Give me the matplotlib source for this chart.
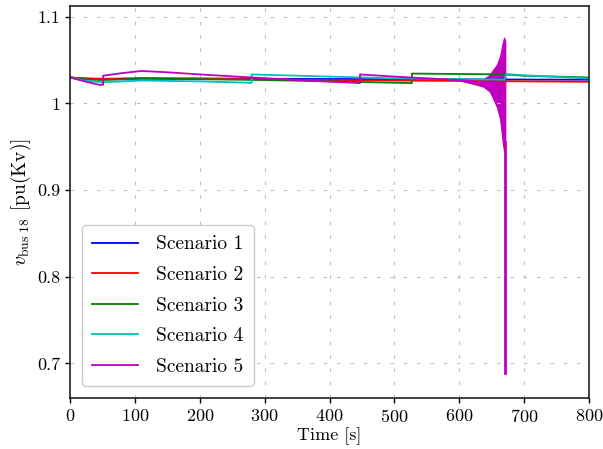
import matplotlib
matplotlib.use("Agg")
import matplotlib.pyplot as plt
from matplotlib.ticker import FuncFormatter

plt.rcParams['font.family'] = 'serif'
plt.rcParams['font.serif'] = ['cmr10']
plt.rcParams['mathtext.fontset'] = 'cm'
plt.rcParams['axes.formatter.use_mathtext'] = True

# ---- data ----
s1_t = [0, 25, 50, 110, 200, 300, 400, 500, 600, 700, 800]
s1_v = [1.030, 1.0285, 1.028, 1.029, 1.0288, 1.0285, 1.0282, 1.028, 1.0278, 1.0276, 1.0274]

s2_t = [0, 25, 50, 110, 200, 300, 400, 500, 600, 700, 800]
s2_v = [1.030, 1.029, 1.0285, 1.029, 1.0285, 1.028, 1.027, 1.0265, 1.026, 1.0255, 1.025]

s3_t = [0, 25, 50, 110, 200, 300, 400, 527, 527, 600, 670, 700, 800]
s3_v = [1.030, 1.0275, 1.027, 1.0285, 1.028, 1.027, 1.0255, 1.0235, 1.0345, 1.034, 1.0335, 1.032, 1.030]

s4_t = [0, 25, 50, 110, 200, 280, 280, 400, 500, 600, 670, 672, 700, 800]
s4_v = [1.030, 1.026, 1.0245, 1.0265, 1.0255, 1.0238, 1.0335, 1.031, 1.029, 1.028, 1.0275, 1.034, 1.0325, 1.0288]

s5_t = [0, 25, 45, 51, 51, 80, 110, 150, 200, 280, 350, 447, 447, 500, 550, 600, 620]
s5_v = [1.030, 1.025, 1.0215, 1.0215, 1.032, 1.035, 1.0375, 1.036, 1.0335, 1.030, 1.027, 1.0235, 1.0335, 1.031, 1.029, 1.027, 1.026]

# oscillation envelope of scenario 5 before the collapse
env_t = [600, 622, 637, 647, 652, 658, 663, 667, 669, 671]
env_lo = [1.0265, 1.0226, 1.0195, 1.0138, 1.006, 0.996, 0.982, 0.955, 0.945, 0.96]
env_hi = [1.0275, 1.027, 1.028, 1.033, 1.0388, 1.0446, 1.055, 1.070, 1.076, 1.072]
spike_t = [669.8, 669.8]
spike_v = [0.955, 0.689]

labels = ['Scenario 1', 'Scenario 2', 'Scenario 3', 'Scenario 4', 'Scenario 5']
colors = ['#0000ff', '#ff0000', '#008000', '#00bfbf', '#bf00bf']

xticks = [0, 100, 200, 300, 400, 500, 600, 700, 800]
yticks = [0.7, 0.8, 0.9, 1.0, 1.1]

fig = plt.figure(figsize=(6.03, 4.49), dpi=100)
ax = fig.add_axes([70/603, 1-398/449, 519/603, 392/449])

lw = 1.3
ax.plot(s1_t, s1_v, color=colors[0], lw=lw, label=labels[0])
ax.plot(s2_t, s2_v, color=colors[1], lw=lw, label=labels[1])
ax.plot(s3_t, s3_v, color=colors[2], lw=lw, label=labels[2])
ax.plot(s4_t, s4_v, color=colors[3], lw=lw, label=labels[3])
ax.plot(s5_t, s5_v, color=colors[4], lw=lw, label=labels[4])
ax.fill_between(env_t, env_lo, env_hi, color=colors[4], lw=0.8, edgecolor=colors[4])
ax.plot(spike_t, spike_v, color=colors[4], lw=2.0)

ax.set_xlim(0, 800)
ax.set_ylim(0.66, 1.1125)
ax.set_xticks(xticks)
ax.set_yticks(yticks)
ax.yaxis.set_major_formatter(FuncFormatter(lambda v, p: '%g' % v))
ax.tick_params(direction='out', length=3.5, width=1.0, labelsize=13, colors='black')
ax.grid(True, color='#bdbdbd', linestyle=(0, (3, 9)), lw=0.8)
for s in ax.spines.values():
    s.set_linewidth(1.2)
    s.set_color('#222222')

ax.set_xlabel('Time [s]', fontsize=13, labelpad=2)
ax.set_ylabel(r'$v_{\mathrm{bus\ 18}}$ [pu(Kv)]', fontsize=14, labelpad=3)

leg = ax.legend(loc='lower left', fontsize=14, handlelength=2.35, handletextpad=0.9,
                labelspacing=0.65, borderaxespad=0.6, borderpad=0.55, framealpha=1.0,
                edgecolor='#cccccc', fancybox=True)
leg.get_frame().set_linewidth(1.0)

fig.savefig('out.png', dpi=100)
